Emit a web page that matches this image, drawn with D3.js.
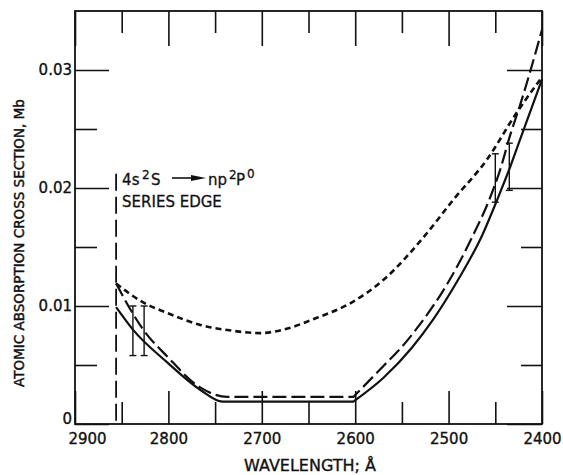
<!DOCTYPE html>
<html>
<head>
<meta charset="utf-8">
<script src="https://cdn.jsdelivr.net/npm/d3@7"></script>
<style>
  body { margin: 0; background: #fff; }
  text { font-family: "DejaVu Sans", sans-serif; fill: #111; }
</style>
</head>
<body>
<div id="chart"></div>
<script>
// wavelength (angstrom) and cross section (Mb)
// solid and long-dashed curves have a flat floor, then a kink at about 2600
const solidLambda = [2856, 2838, 2801, 2766, 2742, 2700, 2650, 2602, 2570, 2540, 2517, 2490, 2464, 2448, 2434, 2424, 2400];
const solidSigma  = [0.0099, 0.0080, 0.0052, 0.0029, 0.0019, 0.0019, 0.0019, 0.0019, 0.0039, 0.0064, 0.0088, 0.0122, 0.0160, 0.0190, 0.0218, 0.0240, 0.0292];

const longLambda = [2856, 2827, 2801, 2766, 2737, 2700, 2650, 2602, 2570, 2545, 2534, 2499, 2475, 2455, 2445, 2434, 2424, 2400];
const longSigma  = [0.0119, 0.0080, 0.0057, 0.0031, 0.0023, 0.0023, 0.0023, 0.0023, 0.0049, 0.0070, 0.0081, 0.0122, 0.0158, 0.0193, 0.0215, 0.0245, 0.0269, 0.0334];

const shortLambda = [2856, 2827, 2801, 2766, 2731, 2702, 2677, 2641, 2606, 2570, 2525, 2495, 2459, 2427, 2400];
const shortSigma  = [0.0119, 0.0103, 0.0094, 0.0084, 0.0079, 0.0077, 0.0080, 0.0090, 0.0102, 0.0122, 0.0160, 0.0190, 0.0224, 0.0264, 0.0294];

const kink = 2602;

// error bars
const errLambda = [2838, 2826, 2450, 2435];
const errLow    = [0.0058, 0.0058, 0.0188, 0.0198];
const errHigh   = [0.0100, 0.0100, 0.0229, 0.0238];

const seriesEdge = 2856;
const edgeTop = 0.0212;

const xMajor = [2900, 2800, 2700, 2600, 2500, 2400];
const xMinor = [2850, 2750, 2650, 2550, 2450];
const yMajor = [0, 0.01, 0.02, 0.03];
const yMinor = [0.005, 0.015, 0.025];

const W = 563, H = 475;
const margin = {top: 11, right: 21, bottom: 51, left: 75};

const svg = d3.select("#chart").append("svg")
  .attr("width", W)
  .attr("height", H);

const x = d3.scaleLinear().domain([2900, 2400]).range([margin.left, W - margin.right]);
const y = d3.scaleLinear().domain([0, 0.035]).range([H - margin.bottom, margin.top]);

// axes: ticks point inward on all four sides
function styleAxis(g) {
  g.select(".domain").remove();
  g.selectAll(".tick line").attr("stroke", "#111").attr("stroke-width", 1.6);
  g.selectAll(".tick text").attr("font-size", 15).attr("fill", "#111")
    .attr("stroke", "#111").attr("stroke-width", 0.35)
    .attr("font-family", "DejaVu Sans, sans-serif");
}

const bottom = svg.append("g").attr("transform", `translate(0,${y(0)})`)
  .call(d3.axisBottom(x).tickValues(xMajor).tickSize(-33).tickPadding(9).tickFormat(d3.format("d")))
  .call(styleAxis);
// the 2900 label sits a little right of its tick, clear of the "0"
bottom.selectAll(".tick text").filter(d => d === 2900).attr("dx", 12);

svg.append("g").attr("transform", `translate(0,${y(0)})`)
  .call(d3.axisBottom(x).tickValues(xMinor).tickSize(-22).tickFormat(""))
  .call(styleAxis);
svg.append("g").attr("transform", `translate(0,${margin.top})`)
  .call(d3.axisTop(x).tickValues(xMajor).tickSize(-35).tickFormat(""))
  .call(styleAxis);
svg.append("g").attr("transform", `translate(0,${margin.top})`)
  .call(d3.axisTop(x).tickValues(xMinor).tickSize(-22).tickFormat(""))
  .call(styleAxis);

const left = svg.append("g").attr("transform", `translate(${margin.left},0)`)
  .call(d3.axisLeft(y).tickValues(yMajor).tickSize(-34).tickPadding(3)
    .tickFormat(d => d === 0 ? "0" : d3.format(".2f")(d)))
  .call(styleAxis);
left.selectAll(".tick text").filter(d => d === 0).attr("dy", "-0.05em");

svg.append("g").attr("transform", `translate(${margin.left},0)`)
  .call(d3.axisLeft(y).tickValues(yMinor).tickSize(-22).tickFormat(""))
  .call(styleAxis);
svg.append("g").attr("transform", `translate(${W - margin.right},0)`)
  .call(d3.axisRight(y).tickValues(yMajor).tickSize(-35).tickFormat(""))
  .call(styleAxis);
svg.append("g").attr("transform", `translate(${W - margin.right},0)`)
  .call(d3.axisRight(y).tickValues(yMinor).tickSize(-21).tickFormat(""))
  .call(styleAxis);

// frame
svg.append("rect")
  .attr("x", x(2900)).attr("y", y(0.035))
  .attr("width", x(2400) - x(2900)).attr("height", y(0) - y(0.035))
  .attr("fill", "none").attr("stroke", "#111").attr("stroke-width", 1.8);

// series edge
svg.append("line")
  .attr("x1", x(seriesEdge)).attr("x2", x(seriesEdge))
  .attr("y1", y(edgeTop)).attr("y2", y(0))
  .attr("stroke", "#111").attr("stroke-width", 1.8)
  .attr("stroke-dasharray", "17,6");

// curves
const line = d3.line()
  .x(d => x(d[0]))
  .y(d => y(d[1]))
  .curve(d3.curveMonotoneX);

// join two smooth pieces at the kink so the corner stays sharp
function kinked(lams, sigs) {
  const pts = d3.zip(lams, sigs);
  const a = pts.filter(p => p[0] >= kink);
  const b = pts.filter(p => p[0] <= kink);
  return line(a) + line(b).replace(/^M/, "L");
}

const curves = [
  {d: kinked(solidLambda, solidSigma), dash: null, w: 2.2},
  {d: kinked(longLambda, longSigma), dash: "14,5", w: 2.2},
  {d: line(d3.zip(shortLambda, shortSigma)), dash: "6,4", w: 2.6}
];

svg.append("g").selectAll("path")
  .data(curves)
  .enter().append("path")
  .attr("d", d => d.d)
  .attr("fill", "none")
  .attr("stroke", "#111")
  .attr("stroke-width", d => d.w)
  .attr("stroke-dasharray", d => d.dash);

// error bars
const errs = svg.append("g").selectAll("g")
  .data(d3.range(errLambda.length))
  .enter().append("g")
  .attr("stroke", "#111").attr("stroke-width", 1.4);
errs.append("line")
  .attr("x1", i => x(errLambda[i])).attr("x2", i => x(errLambda[i]))
  .attr("y1", i => y(errLow[i])).attr("y2", i => y(errHigh[i]));
errs.append("line")
  .attr("x1", i => x(errLambda[i]) - 3.5).attr("x2", i => x(errLambda[i]) + 3.5)
  .attr("y1", i => y(errLow[i])).attr("y2", i => y(errLow[i]));
errs.append("line")
  .attr("x1", i => x(errLambda[i]) - 3.5).attr("x2", i => x(errLambda[i]) + 3.5)
  .attr("y1", i => y(errHigh[i])).attr("y2", i => y(errHigh[i]));

// annotation
const ax = x(seriesEdge) + 6;
const t1 = svg.append("text").attr("x", ax).attr("y", 185).attr("font-size", 15)
  .attr("stroke", "#111").attr("stroke-width", 0.3);
t1.append("tspan").text("4s");
t1.append("tspan").attr("x", 142).attr("dy", -6).attr("font-size", 12).text("2");
t1.append("tspan").attr("x", 151).attr("dy", 6).text("S");
t1.append("tspan").attr("x", 208).text("np");
t1.append("tspan").attr("x", 229).attr("dy", -6).attr("font-size", 12).text("2");
t1.append("tspan").attr("x", 236).attr("dy", 6).text("P");
t1.append("tspan").attr("x", 247).attr("dy", -7).attr("font-size", 12).text("0");

svg.append("path")
  .attr("d", "M172,178 L196,178")
  .attr("stroke", "#111").attr("stroke-width", 1.6);
svg.append("path")
  .attr("d", "M191,175 L206,178 L191,181 Z")
  .attr("fill", "#111");

svg.append("text").attr("x", ax).attr("y", 207).attr("font-size", 15)
  .attr("stroke", "#111").attr("stroke-width", 0.3)
  .text("SERIES EDGE");

// axis titles
svg.append("text")
  .attr("transform", "translate(24,243) rotate(-90)")
  .attr("text-anchor", "middle")
  .attr("font-size", 13.5)
  .attr("stroke", "#111").attr("stroke-width", 0.45)
  .text("ATOMIC ABSORPTION CROSS SECTION, Mb");

svg.append("text")
  .attr("x", 310).attr("y", 471)
  .attr("text-anchor", "middle")
  .attr("font-size", 16)
  .attr("stroke", "#111").attr("stroke-width", 0.35)
  .text("WAVELENGTH; Å");
</script>
</body>
</html>
